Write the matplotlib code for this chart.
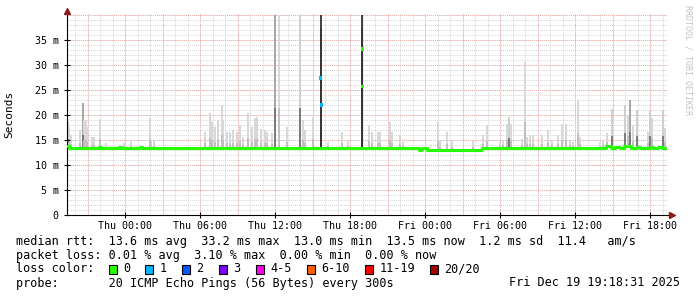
import matplotlib

matplotlib.use("Agg")
import matplotlib.pyplot as plt
import numpy as np
from matplotlib.patches import Rectangle

# time axis: hours since Wed 19:20
tick_hours = [4.67, 10.67, 16.67, 22.67, 28.67, 34.67, 40.67, 46.67]
tick_labels = ["Thu 00:00", "Thu 06:00", "Thu 12:00", "Thu 18:00",
               "Fri 00:00", "Fri 06:00", "Fri 12:00", "Fri 18:00"]
y_ticks = [0, 5, 10, 15, 20, 25, 30, 35]
y_tick_labels = ["0", "5 m", "10 m", "15 m", "20 m", "25 m", "30 m", "35 m"]

# median rtt (ms) as steps: start hour -> value
median_h = [0.0, 0.16, 2.56, 2.72, 4.16, 4.32, 5.84, 6.0, 28.16, 28.36, 28.8,
            33.2, 43.12, 43.52, 43.84, 44.24, 44.56, 45.12, 45.6, 45.84,
            46.6, 46.88, 47.28, 47.6]
median_ms = [13.8, 13.4, 13.6, 13.4, 13.6, 13.4, 13.7, 13.4, 13.0, 13.5, 13.0,
             13.5, 13.8, 13.5, 13.7, 13.4, 13.9, 13.4, 13.6, 13.4,
             13.7, 13.5, 13.7, 13.5]
median_end_h = 47.9

# smoke spikes: hour, top (ms), shade
spike_h = [0.04, 0.16, 0.32, 1.04, 1.24, 1.36, 1.52, 1.6, 2.0, 2.16, 2.6, 3.1,
           4.56, 5.1, 6.6, 6.72, 6.96, 11.04, 11.44, 11.58, 11.84, 12.08,
           12.38, 12.48, 12.78, 13.04, 13.28, 13.58, 13.84, 14.08, 14.48,
           14.78, 15.04, 15.2, 15.5, 15.84, 15.98, 16.38, 16.64, 16.92, 17.6,
           18.64, 18.88, 19.04, 19.68, 20.3, 20.88, 21.98, 22.48, 23.62, 24.16,
           24.38, 24.88, 25.04, 25.84, 25.98, 26.64, 26.88, 29.66, 29.84,
           30.38, 30.78, 32.48, 33.28, 33.6, 34.64, 34.88, 35.18, 35.36, 35.5,
           36.38, 36.6, 36.78, 37.04, 37.28, 37.98, 38.48, 38.78, 39.28, 39.58,
           39.92, 40.24, 40.48, 40.84, 41.04, 42.62, 42.88, 43.2, 43.56, 44.6,
           44.88, 45.04, 45.28, 45.6, 46.48, 46.62, 46.8, 47.68, 47.86]
spike_top = [18.7, 17.7, 16.0, 17.0, 22.4, 19.0, 19.0, 17.7, 15.7, 15.7, 19.2,
             14.4, 14.5, 15.0, 19.4, 15.0, 15.0, 16.7, 20.4, 18.7, 17.7, 19.0,
             22.0, 19.0, 16.7, 16.7, 17.0, 16.7, 18.0, 15.7, 20.4,
             17.7, 19.4, 19.7, 17.3, 17.0, 16.7, 16.4, 40.0, 40.0, 17.7,
             40.0, 19.0, 17.0, 19.7, 40.0, 14.7, 16.7, 15.0, 40.0, 18.0,
             16.7, 16.7, 16.7, 18.7, 16.7, 16.0, 14.7, 18.7, 15.0,
             16.7, 15.0, 15.0, 16.0, 18.0, 14.7, 15.0, 18.3, 19.7, 18.3,
             15.3, 30.7, 15.7, 16.0, 16.0, 16.0, 17.0, 15.0, 16.0, 18.3,
             18.3, 15.0, 14.7, 23.0, 15.7, 14.7, 15.0, 16.4, 21.2, 22.0,
             20.0, 23.0, 18.0, 21.0, 16.7, 20.8, 19.5, 21.0, 17.5]
spike_shade = ["g", "l", "l", "l", "m", "l", "l", "l", "l", "l", "l", "l",
               "l", "l", "l", "l", "l", "l", "l", "l", "l", "l",
               "l", "l", "l", "l", "l", "l", "l", "l", "l",
               "l", "l", "l", "l", "l", "l", "l", "m", "l", "l",
               "g", "l", "l", "l", "d", "l", "l", "l", "d", "l",
               "l", "l", "l", "l", "l", "l", "l", "l", "l",
               "l", "l", "l", "l", "l", "l", "l", "l", "g", "l",
               "l", "l", "l", "l", "l", "l", "l", "l", "l", "l",
               "l", "l", "l", "l", "l", "l", "l", "l", "g", "g",
               "l", "m", "l", "g", "l", "g", "l", "g", "l"]

# median points drawn with loss color
loss_h = [20.3, 20.38, 23.62, 23.66]
loss_ms = [27.4, 22.0, 33.2, 25.7]
loss_pt_color = ["#00b8ff", "#00b8ff", "#26ff00", "#26ff00"]

loss_labels = ["0", "1", "2", "3", "4-5", "6-10", "11-19", "20/20"]
loss_colors = ["#26ff00", "#00b8ff", "#0059ff", "#7e00ff",
               "#ff00ea", "#ff5e00", "#ff0000", "#a10000"]

legend_rows = [
    "median rtt:  13.6 ms avg  33.2 ms max  13.0 ms min  13.5 ms now  1.2 ms sd  11.4   am/s",
    "packet loss: 0.01 % avg  3.10 % max  0.00 % min  0.00 % now",
    "loss color:",
    "probe:       20 ICMP Echo Pings (56 Bytes) every 300s",
]
stamp = "Fri Dec 19 19:18:31 2025"

SHADES = {
    "l": ("#d8d8d8", "#c0c0c0"),
    "m": ("#a8a8a8", "#7a7a7a"),
    "g": ("#cfcfcf", "#7c7c7c"),
    "d": ("#444444", "#363636"),
}

W, H = 697, 297
MONO = "DejaVu Sans Mono"

fig = plt.figure(figsize=(W / 100, H / 100), dpi=100, facecolor="white")
ax = fig.add_axes([67 / W, 1 - 215 / H, 600 / W, 202 / H])
ax.set_xlim(0, 48)
ax.set_ylim(0, 40.4)

# grid, drawn by hand like rrdtool
for h in np.arange(0.67, 48, 1.0):
    ax.axvline(h, color="#d6d6d6", lw=0.7, ls=(0, (1, 1)), zorder=0)
for v in np.arange(1, 40.5, 1.0):
    ax.axhline(v, color="#d6d6d6", lw=0.7, ls=(0, (1, 1)), zorder=0)
for h in np.arange(1.67, 48, 3.0):
    ax.axvline(h, color="#f0aaaa", lw=0.7, ls=(0, (1, 1)), zorder=0.5)
for v in np.arange(5, 40.5, 5.0):
    ax.axhline(v, color="#f0aaaa", lw=0.7, ls=(0, (1, 1)), zorder=0.5)

med_h = np.array(median_h)
med_v = np.array(median_ms)


def median_at(h):
    i = np.searchsorted(med_h, h, side="right") - 1
    return med_v[max(i, 0)]


for h, top, sh in zip(spike_h, spike_top, spike_shade):
    base = median_at(h)
    light, dark = SHADES[sh]
    ax.bar(h, top - base, bottom=base, width=0.16, color=light, lw=0, zorder=1)
    frac = 0.9 if sh == "d" else 0.3
    ax.bar(h, (top - base) * frac, bottom=base, width=0.16, color=dark,
           lw=0, zorder=1.1)

ax.step(list(median_h) + [median_end_h], list(median_ms) + [median_ms[-1]],
        where="post", color="#26ff00", lw=2.2, zorder=3)
ax.scatter(loss_h, loss_ms, c=loss_pt_color, marker="s", s=5, lw=0, zorder=4)

ax.set_xticks(tick_hours)
ax.set_xticklabels(tick_labels, family=MONO, fontsize=7.2)
ax.set_yticks(y_ticks)
ax.set_yticklabels(y_tick_labels, family=MONO, fontsize=7.2)
ax.tick_params(axis="both", direction="inout", length=4, width=0.8, pad=2)
ax.tick_params(axis="y", pad=4)
ax.set_ylabel("Seconds", family=MONO, fontsize=8, labelpad=15)

for side in ("top", "right"):
    ax.spines[side].set_visible(False)
ax.spines["left"].set_bounds(0, 40.6)
ax.spines["bottom"].set_bounds(0, 48.2)
ax.plot([0], [1.01], marker="^", ms=4, color="#8b1a1a", transform=ax.transAxes,
        clip_on=False, zorder=5)
ax.plot([1.008], [0], marker=">", ms=4, color="#8b1a1a", transform=ax.transAxes,
        clip_on=False, zorder=5)

fig.text(688 / W, 1 - 60 / H, "RRDTOOL / TOBI OETIKER", rotation=-90,
         family=MONO, fontsize=6, color="#c4c4c4", ha="center", va="center")

# legend block
row_y = [241, 255, 269, 283]
for text, y in zip(legend_rows, row_y):
    fig.text(16 / W, 1 - y / H, text, family=MONO, fontsize=8.5,
             ha="left", va="center")
fig.text(680 / W, 1 - row_y[3] / H, stamp, family=MONO, fontsize=8.5,
         ha="right", va="center")

cw = 7.1
x = 108.5
for lab, col in zip(loss_labels, loss_colors):
    fig.add_artist(Rectangle((x / W, 1 - 273.5 / H), 8 / W, 8.5 / H,
                             transform=fig.transFigure, facecolor=col,
                             edgecolor="black", lw=0.8))
    fig.text((x + 14.5) / W, 1 - row_y[2] / H, lab, family=MONO, fontsize=8.5,
             ha="left", va="center")
    x += 14.5 + (len(lab) + 2) * cw + 1

fig.savefig("out.png", dpi=100, facecolor="white")
